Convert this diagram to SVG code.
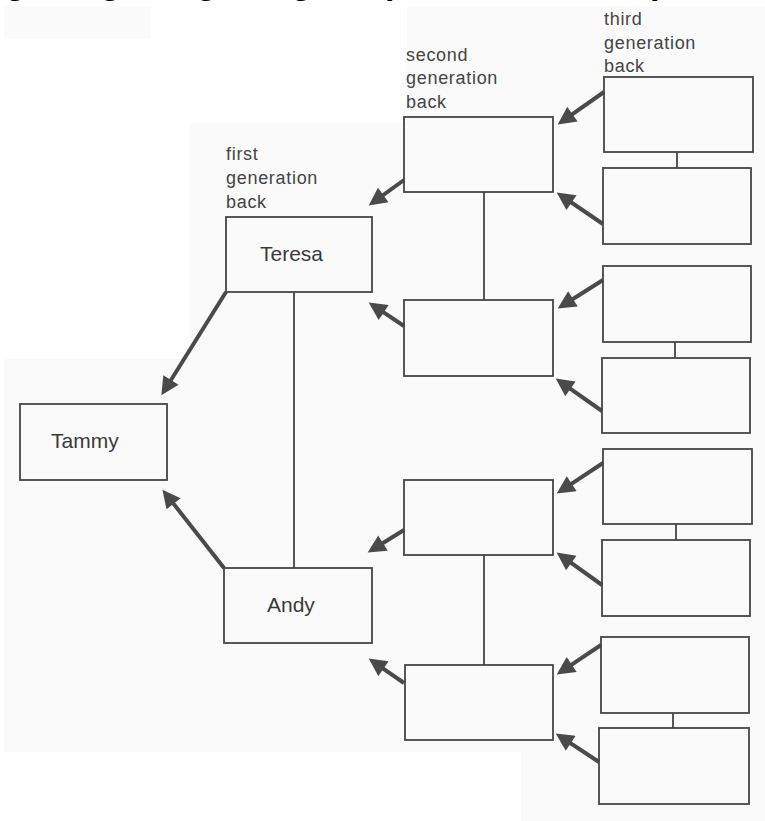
<svg xmlns="http://www.w3.org/2000/svg" width="765" height="821" viewBox="0 0 765 821">
<style>
.box{fill:none;stroke:#454545;stroke-width:1.8}
.lbl{font-family:"Liberation Sans",Arial,sans-serif;font-size:18px;letter-spacing:0.7px;fill:#444}
.name{font-family:"Liberation Sans",Arial,sans-serif;font-size:21px;fill:#3a3a3a}
.frag{font-family:"Liberation Sans",Arial,sans-serif;font-weight:bold;font-size:34px;fill:#000}
.link{stroke:#454545;stroke-width:1.8;fill:none}
.arr{stroke:#4a4a4a;stroke-width:4;fill:none;marker-end:url(#ah)}
</style>
<defs>
<marker id="ah" viewBox="0 0 10 10" refX="6" refY="5" markerWidth="5" markerHeight="4.5" orient="auto" markerUnits="strokeWidth">
<path d="M0,0 L10,5 L0,10 z" fill="#4a4a4a"/>
</marker>
</defs>
<rect width="765" height="821" fill="#ffffff"/>
<g id="background">
<polygon points="407,6 765,6 765,821 521,821 521,752 4,752 4,359 190,359 190,123 407,123" fill="#fafafa"/>
<rect x="4" y="6" width="147" height="33" fill="#fbfbfb"/>
</g>
<g id="title-fragment">
<text class="frag" y="-6"><tspan x="5">g</tspan><tspan x="100">g</tspan><tspan x="196">g</tspan><tspan x="291">g</tspan><tspan x="385">p</tspan><tspan x="650">p</tspan></text>
</g>
<g id="labels">
<text class="lbl"><tspan x="226" y="160">first</tspan><tspan x="226" y="184">generation</tspan><tspan x="226" y="208">back</tspan></text>
<text class="lbl"><tspan x="406" y="61">second</tspan><tspan x="406" y="84">generation</tspan><tspan x="406" y="108">back</tspan></text>
<text class="lbl"><tspan x="604" y="25">third</tspan><tspan x="604" y="49">generation</tspan><tspan x="604" y="72">back</tspan></text>
</g>
<g id="connectors">
<line class="link" x1="294" y1="292" x2="294" y2="568"/>
<line class="link" x1="484" y1="192" x2="484" y2="300"/>
<line class="link" x1="484" y1="555" x2="484" y2="665"/>
<line class="link" x1="677" y1="152" x2="677" y2="168"/>
<line class="link" x1="675" y1="342" x2="675" y2="358"/>
<line class="link" x1="676" y1="524" x2="676" y2="540"/>
<line class="link" x1="673" y1="713" x2="673" y2="728"/>
<line class="arr" x1="226" y1="292" x2="165.2" y2="389.2"/>
<line class="arr" x1="224" y1="568" x2="166.9" y2="495.3"/>
<line class="arr" x1="404" y1="180" x2="374.5" y2="201.3"/>
<line class="arr" x1="404" y1="326" x2="374.7" y2="306.4"/>
<line class="arr" x1="404" y1="530" x2="373.8" y2="548.8"/>
<line class="arr" x1="404" y1="683" x2="374.6" y2="662.6"/>
<line class="arr" x1="604" y1="92" x2="563.6" y2="120.4"/>
<line class="arr" x1="603" y1="224" x2="562.6" y2="196.5"/>
<line class="arr" x1="603" y1="280" x2="563.8" y2="304.7"/>
<line class="arr" x1="602" y1="411" x2="561.6" y2="382.6"/>
<line class="arr" x1="603" y1="463" x2="562.7" y2="489.6"/>
<line class="arr" x1="602" y1="585" x2="562.5" y2="556.7"/>
<line class="arr" x1="601" y1="645" x2="562.7" y2="670.6"/>
<line class="arr" x1="599" y1="762" x2="561.7" y2="737.4"/>
</g>
<g id="tammy"><rect class="box" x="20" y="404" width="147" height="76"/><text class="name" x="51" y="448">Tammy</text></g>
<g id="teresa"><rect class="box" x="226" y="217" width="146" height="75"/><text class="name" x="260" y="261">Teresa</text></g>
<g id="andy"><rect class="box" x="224" y="568" width="148" height="75"/><text class="name" x="267" y="612">Andy</text></g>
<g id="g2-1"><rect class="box" x="404" y="117" width="149" height="75"/></g>
<g id="g2-2"><rect class="box" x="404" y="300" width="149" height="76"/></g>
<g id="g2-3"><rect class="box" x="404" y="480" width="149" height="75"/></g>
<g id="g2-4"><rect class="box" x="405" y="665" width="148" height="75"/></g>
<g id="g3-1"><rect class="box" x="604" y="77" width="149" height="75"/></g>
<g id="g3-2"><rect class="box" x="603" y="168" width="148" height="76"/></g>
<g id="g3-3"><rect class="box" x="603" y="266" width="148" height="76"/></g>
<g id="g3-4"><rect class="box" x="602" y="358" width="148" height="75"/></g>
<g id="g3-5"><rect class="box" x="603" y="449" width="149" height="75"/></g>
<g id="g3-6"><rect class="box" x="602" y="540" width="148" height="76"/></g>
<g id="g3-7"><rect class="box" x="601" y="637" width="148" height="76"/></g>
<g id="g3-8"><rect class="box" x="599" y="728" width="150" height="76"/></g>
</svg>
